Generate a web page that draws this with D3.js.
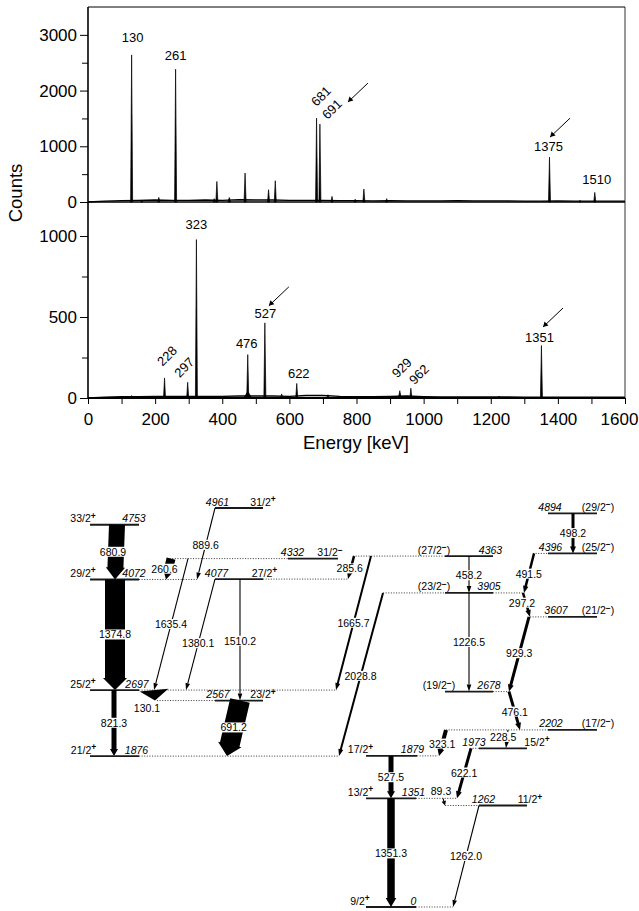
<!DOCTYPE html>
<html lang="en">
<head>
<meta charset="UTF-8">
<title>Gamma spectra and level scheme</title>
<script src="https://d3js.org/d3.v7.min.js"></script>
<style>
  body { margin: 0; background: #fff; }
  svg { display: block; font-family: "Liberation Sans", Arial, sans-serif; }
  .lvl { stroke: #1a1a1a; stroke-width: 1.8; }
  .dot { stroke: #333; stroke-width: 0.9; stroke-dasharray: 1.1,1.5; }
  .glab { font-size: 10.5px; text-anchor: middle; }
  .elab { font-size: 10.5px; font-style: italic; text-anchor: middle; }
  .slab { font-size: 10.5px; text-anchor: middle; }
  .plab { font-size: 13px; text-anchor: middle; }
</style>
</head>
<body>
<svg width="639" height="911"></svg>
<script>
// ---------- spectra ----------
const xTicksMajor = [0, 200, 400, 600, 800, 1000, 1200, 1400, 1600];
const xTicksMinor = [100, 300, 500, 700, 900, 1100, 1300, 1500];
const topTicks = [0, 1000, 2000, 3000];
const topMinor = [500, 1500, 2500];
const botTicks = [0, 500, 1000];
const botMinor = [250, 750];

// top spectrum: peak energy, counts, half width (keV)
const topPeakE = [130, 160, 211, 261, 376, 384, 421, 468, 538, 558, 681, 691, 727, 796, 822, 890, 1375, 1466, 1510];
const topPeakC = [2640, 20, 82, 2383, 60, 369, 80, 520, 220, 382, 1505, 1398, 100, 50, 233, 60, 806, 30, 172];
const topPeakW = [3, 3, 3, 3, 3, 3, 4, 3, 3, 3, 3, 3, 3, 3, 3, 3, 3, 3, 3];
const topBgE = [0, 50, 100, 150, 200, 250, 300, 350, 400, 450, 500, 550, 600, 650, 700, 750, 800, 850, 900, 950, 1000, 1050, 1100, 1150, 1200, 1250, 1300, 1350, 1400, 1450, 1500, 1550, 1600];
const topBgC = [0, 15, 25, 30, 35, 30, 30, 35, 30, 40, 35, 35, 30, 30, 30, 25, 25, 20, 25, 20, 20, 20, 25, 20, 20, 20, 15, 15, 20, 15, 15, 15, 15];

// bottom spectrum
const botPeakE = [130, 228, 297, 323, 476, 476, 527, 577, 622, 715, 929, 929, 962, 1225, 1351];
const botPeakC = [15, 124, 97, 978, 268, 40, 464, 25, 90, 20, 45, 15, 60, 12, 324];
const botPeakW = [3, 3, 3, 3, 3, 12, 3, 3, 3, 4, 4, 15, 3, 3, 3];
const botBgE = topBgE;
const botBgC = [0, 5, 8, 8, 10, 10, 10, 10, 10, 12, 12, 12, 10, 15, 15, 10, 8, 8, 10, 12, 8, 6, 6, 6, 6, 6, 5, 5, 5, 5, 5, 5, 5];

const topLabelE = [130, 261, 681, 691, 1375, 1510];
const topLabelC = [2640, 2383, 1505, 1398, 806, 172];
const topLabelText = ["130", "261", "681", "691", "1375", "1510"];
const botLabelE = [228, 297, 323, 476, 527, 622, 929, 962, 1351];
const botLabelC = [124, 97, 978, 268, 464, 90, 45, 60, 324];
const botLabelText = ["228", "297", "323", "476", "527", "622", "929", "962", "1351"];

// label placement (dx, dy from peak top, rotation)
const topLabelPos = [[1, -13, 0], [0, -9, 0], [4.5, -22, -45], [12, -15, -45], [-1, -6, 0], [2, -8, 0]];
const botLabelPos = [[2.5, -22, -45], [-3.5, -15, -45], [0, -10.5, 0], [-1, -6.5, 0], [0.5, -5, 0], [2, -5, 0], [2, -23, -45], [8, -14, -45], [-2, -3.5, 0]];
// marker arrows: peak energy, counts, tip offset
const topArrowE = [691, 1375], topArrowC = [1398, 806];
const botArrowE = [527, 1351], botArrowC = [464, 324];
const topArrowPos = [[28, -22], [0.6, -20]];
const botArrowPos = [[4, -17], [1.6, -18.5]];

const svg = d3.select("svg");
const x = d3.scaleLinear().domain([0, 1600]).range([88, 625]);
const yTop = d3.scaleLinear().domain([0, 3500]).range([202, 7]);
const yBot = d3.scaleLinear().domain([0, 1210]).range([398, 202]);

function styleAxis(g, size) {
  g.attr("font-family", null).attr("font-size", size);
  g.select(".domain").remove();
}

svg.append("g").attr("transform", `translate(${x(0)},0)`)
  .call(d3.axisLeft(yTop).tickValues(topTicks).tickSize(8).tickPadding(3).tickFormat(d3.format("d")))
  .call(styleAxis, 17);
svg.append("g").attr("transform", `translate(${x(0)},0)`)
  .call(d3.axisLeft(yTop).tickValues(topMinor).tickSize(6).tickFormat(""))
  .call(styleAxis, 17);
svg.append("g").attr("transform", `translate(${x(0)},0)`)
  .call(d3.axisLeft(yBot).tickValues(botTicks).tickSize(8).tickPadding(3).tickFormat(d3.format("d")))
  .call(styleAxis, 17);
svg.append("g").attr("transform", `translate(${x(0)},0)`)
  .call(d3.axisLeft(yBot).tickValues(botMinor).tickSize(6).tickFormat(""))
  .call(styleAxis, 17);
const xAxisG = svg.append("g").attr("transform", `translate(0,${yBot(0)})`)
  .call(d3.axisBottom(x).tickValues(xTicksMajor).tickSize(6).tickPadding(9).tickFormat(d3.format("d")))
  .call(styleAxis, 17);
// keep the last label inside the page
xAxisG.selectAll(".tick text").filter(d => d === 1600).attr("dx", -6);
svg.append("g").attr("transform", `translate(0,${yBot(0)})`)
  .call(d3.axisBottom(x).tickValues(xTicksMinor).tickSize(6).tickFormat(""))
  .call(styleAxis, 17);

function drawSpectrum(E, C, W, bgE, bgC, y) {
  const g = svg.append("g");
  g.append("path")
    .datum(bgE.map((e, i) => [e, bgC[i]]))
    .attr("d", d3.line().x(d => x(d[0])).y(d => y(d[1])))
    .attr("fill", "none").attr("stroke", "#000").attr("stroke-width", 1.4);
  g.selectAll("path.pk")
    .data(E.map((e, i) => ({ e, c: C[i], w: W[i] })))
    .join("path").attr("class", "pk")
    .attr("d", d => `M${x(d.e - d.w)},${y(0)}L${x(d.e)},${y(d.c)}L${x(d.e + d.w)},${y(0)}Z`)
    .attr("fill", "#000").attr("stroke", "#000").attr("stroke-width", 0.7);
}
drawSpectrum(topPeakE, topPeakC, topPeakW, topBgE, topBgC, yTop);
drawSpectrum(botPeakE, botPeakC, botPeakW, botBgE, botBgC, yBot);

// frame
svg.append("line").attr("x1", x(0)).attr("x2", x(0)).attr("y1", yTop.range()[1]).attr("y2", yBot(0)).attr("stroke", "#000").attr("stroke-width", 1.6);
svg.append("line").attr("x1", x(1600)).attr("x2", x(1600)).attr("y1", yTop.range()[1]).attr("y2", yBot(0)).attr("stroke", "#333").attr("stroke-width", 1);
svg.append("line").attr("x1", x(0)).attr("x2", x(1600)).attr("y1", yTop.range()[1]).attr("y2", yTop.range()[1]).attr("stroke", "#000").attr("stroke-width", 1);
svg.append("line").attr("x1", x(0)).attr("x2", x(1600)).attr("y1", yTop(0)).attr("y2", yTop(0)).attr("stroke", "#000").attr("stroke-width", 1.6);
svg.append("line").attr("x1", x(0)).attr("x2", x(1600)).attr("y1", yBot(0)).attr("y2", yBot(0)).attr("stroke", "#000").attr("stroke-width", 1.8);

function peakLabels(E, C, T, P, y) {
  E.forEach((e, i) => {
    const px = x(e) + P[i][0], py = y(C[i]) + P[i][1];
    const t = svg.append("text").attr("class", "plab").text(T[i]);
    if (P[i][2]) {
      t.attr("transform", `translate(${px},${py}) rotate(${P[i][2]})`).attr("dy", "0.35em");
    } else {
      t.attr("x", px).attr("y", py);
    }
  });
}
peakLabels(topLabelE, topLabelC, topLabelText, topLabelPos, yTop);
peakLabels(botLabelE, botLabelC, botLabelText, botLabelPos, yBot);

function markerArrows(E, C, P, y) {
  E.forEach((e, i) => {
    const tx = x(e) + P[i][0], ty = y(C[i]) + P[i][1];
    const sx = tx + 20, sy = ty - 19;
    svg.append("line").attr("x1", sx).attr("y1", sy).attr("x2", tx).attr("y2", ty).attr("stroke", "#000").attr("stroke-width", 1);
    svg.append("path").attr("d", `M${tx},${ty}L${tx + 1.5},${ty - 5.5}L${tx + 5.5},${ty - 1.5}Z`).attr("fill", "#000");
  });
}
markerArrows(topArrowE, topArrowC, topArrowPos, yTop);
markerArrows(botArrowE, botArrowC, botArrowPos, yBot);

svg.append("text").attr("transform", "translate(22,193) rotate(-90)").attr("text-anchor", "middle").attr("font-size", 18.5).text("Counts");
svg.append("text").attr("x", 356).attr("y", 449).attr("text-anchor", "middle").attr("font-size", 18.5).text("Energy [keV]");

// ---------- level scheme ----------
const levelE = [0, 1262, 1351, 1876, 1879, 1973, 2202, 2567, 2678, 2697, 3607, 3905, 4072, 4077, 4332, 4363, 4396, 4753, 4894, 4961];
const levelSpin = ["9/2+", "11/2+", "13/2+", "21/2+", "17/2+", "15/2+", "(17/2−)", "23/2+", "(19/2−)", "25/2+", "(21/2−)", "(23/2−)", "29/2+", "27/2+", "31/2−", "(27/2−)", "(25/2−)", "33/2+", "(29/2−)", "31/2+"];
// layout: solid x0, x1, spin label x, energy label x, dotted extensions
const levelLayout = [
  [366, 416, 360, 413.5, [[416, 453]]],
  [479, 527, 530, 483.5, [[445, 479]]],
  [366, 416, 360.5, 413.5, [[416, 457]]],
  [90, 139, 83.5, 136.5, [[139, 338]]],
  [366, 417, 360.5, 412.5, [[417, 438]]],
  [479, 527, 537, 474, [[470, 479]]],
  [548, 597, 598, 551, [[446, 548]]],
  [215, 263, 263, 218, [[157, 215]]],
  [445, 493, 439, 489, [[493, 510]]],
  [90, 139, 83, 137, [[139, 337]]],
  [548, 597, 598, 556, [[530, 548]]],
  [445, 493, 434, 489, [[383, 445], [493, 523]]],
  [90, 139, 83, 134, [[139, 197]]],
  [215, 263, 264.5, 216.5, [[263, 348]]],
  [288, 338, 330, 292.5, [[167, 288]]],
  [445, 493, 434, 490.5, [[353, 445]]],
  [548, 597, 598, 550.5, [[533, 548]]],
  [90, 139, 83, 134, []],
  [548, 597, 598, 550, []],
  [215, 263, 263, 217.5, []]
];

const gammaE = [680.9, 1374.8, 821.3, 130.1, 260.6, 889.6, 1635.4, 1380.1, 1510.2, 691.2, 285.6, 1665.7, 2028.8, 458.2, 1226.5, 498.2, 491.5, 297.2, 929.3, 476.1, 228.5, 323.1, 527.5, 622.1, 89.3, 1351.3, 1262.0];
const gammaFrom = [4753, 4072, 2697, 2697, 4332, 4961, 4332, 4077, 4077, 2567, 4363, 4363, 3905, 4363, 3905, 4894, 4396, 3905, 3607, 2678, 2202, 2202, 1879, 1973, 1351, 1351, 1262];
const gammaTo = [4072, 2697, 1876, 2567, 4072, 4072, 2697, 2697, 2567, 1876, 4077, 2697, 1876, 3905, 2678, 4396, 3905, 3607, 2678, 2202, 1973, 1879, 1351, 1351, 1262, 0, 0];
// relative intensity (drawn arrow width)
const gammaInt = [16, 20, 5, 24, 9, 1, 1, 1, 1, 20, 2.5, 2, 2, 1, 1, 3, 2.5, 2.5, 3, 3, 1, 4, 5, 3, 1, 7.5, 1];
// layout: x at top, x at bottom; label fraction along arrow, dx, dy
const gammaX = [[117, 115], [115, 115], [114, 114], [154, 155], [171, 166], [215, 197], [188, 154], [215, 186], [240, 240], [240, 227], [354, 348], [371, 336], [383, 339], [469, 469], [469, 469], [573, 573], [534, 524], [523, 530], [529, 509], [509, 520], [508, 506], [446, 439], [391, 391], [471, 457], [443, 445], [391, 391], [479, 453]];
const gammaLab = [[0.5, -3, 0], [0.5, 0, 0], [0.5, 0, 0], [1, -8, 8], [0.5, -4, 0], [0.52, 0, 0], [0.5, 0, 0], [0.58, 0, 0], [0.51, 0, 0], [0.49, 0, 0], [0.55, -1, 0], [0.5, 0, 0], [0.51, 0, 0], [0.53, 0, 0], [0.5, 0, 0], [0.5, 0, 0], [0.52, 0, 0], [0.42, -4, 0], [0.49, 0, 0], [0.53, 0, 0], [0.4, -4, 0], [0.54, 0, 0], [0.51, 0, 0], [0.49, 0, 0], [0, -2, -7], [0.51, 0, 0], [0.5, 0, 0]];

const yLev = d3.scaleLinear().domain([0, 4961]).range([907, 508]);
const ls = svg.append("g");

// levels
levelE.forEach((e, i) => {
  const [x0, x1, sx, ex, dots] = levelLayout[i];
  const yy = yLev(e);
  dots.forEach(d => ls.append("line").attr("class", "dot").attr("x1", d[0]).attr("x2", d[1]).attr("y1", yy).attr("y2", yy));
  ls.append("line").attr("class", "lvl").attr("x1", x0).attr("x2", x1).attr("y1", yy).attr("y2", yy);
  ls.append("text").attr("class", "elab").attr("x", ex).attr("y", yy - 2.5).text(e);
  const m = levelSpin[i].match(/^(\(?\d+\/\d)([+−])(\)?)$/);
  const t = ls.append("text").attr("class", "slab").attr("x", sx).attr("y", yy - 2.5);
  t.append("tspan").text(m[1]);
  t.append("tspan").attr("dy", -3.5).attr("font-size", 8.5).attr("font-weight", "bold").text(m[2]);
  if (m[3]) t.append("tspan").attr("dy", 3.5).text(m[3]);
});

function arrowPoints(x0, y0, x1, y1, w) {
  const dx = x1 - x0, dy = y1 - y0, L = Math.hypot(dx, dy);
  const ux = dx / L, uy = dy / L, px = -uy, py = ux;
  const hw = w / 2;
  const hhw = Math.max(hw * 1.2, hw + 1.5, 2.5);
  const hl = Math.min(L, Math.max(7, Math.min(12, w * 1.2)));
  const bx = x1 - ux * hl, by = y1 - uy * hl;
  return [[x0 + px * hw, y0 + py * hw], [bx + px * hw, by + py * hw], [bx + px * hhw, by + py * hhw], [x1, y1],
          [bx - px * hhw, by - py * hhw], [bx - px * hw, by - py * hw], [x0 - px * hw, y0 - py * hw]];
}

const arrows = ls.append("g");
const labels = ls.append("g");
gammaE.forEach((g, i) => {
  const [xa, xb] = gammaX[i];
  const ya = yLev(gammaFrom[i]), yb = yLev(gammaTo[i]);
  const w = gammaInt[i];
  if (w <= 1) {
    const L = Math.hypot(xb - xa, yb - ya), ux = (xb - xa) / L, uy = (yb - ya) / L;
    const hl = Math.min(7, L * 0.6);
    arrows.append("line").attr("x1", xa).attr("y1", ya).attr("x2", xb - ux * hl).attr("y2", yb - uy * hl).attr("stroke", "#000").attr("stroke-width", 1.1);
    const bx = xb - ux * hl, by = yb - uy * hl;
    arrows.append("path").attr("d", `M${bx - uy * 2.3},${by + ux * 2.3}L${xb},${yb}L${bx + uy * 2.3},${by - ux * 2.3}Z`).attr("fill", "#000");
  } else {
    arrows.append("path").attr("d", d3.line()(arrowPoints(xa, ya, xb, yb, w)) + "Z").attr("fill", "#000");
  }
  const [f, ldx, ldy] = gammaLab[i];
  const lx = xa + (xb - xa) * f + ldx, ly = ya + (yb - ya) * f + ldy;
  const t = labels.append("text").attr("class", "glab").attr("x", lx).attr("y", ly).attr("dy", "0.35em").text(g.toFixed(1));
  const bb = t.node().getBBox();
  labels.insert("rect", "text:last-child").attr("x", bb.x - 0.5).attr("y", bb.y + 1).attr("width", bb.width + 1).attr("height", bb.height - 2).attr("fill", "#fff");
});
</script>
</body>
</html>
